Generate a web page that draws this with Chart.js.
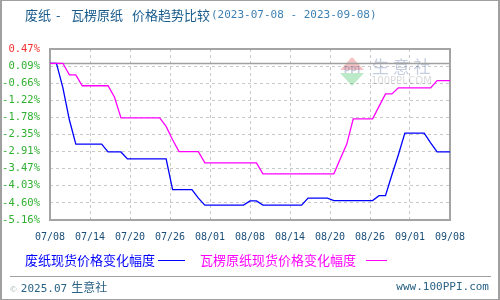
<!DOCTYPE html>
<html>
<head>
<meta charset="utf-8">
<script src="https://cdn.jsdelivr.net/npm/chart.js@4/dist/chart.umd.min.js"></script>
<style>
  html, body { margin: 0; padding: 0; background: #fff; }
  #wrap { position: relative; width: 500px; height: 300px; overflow: hidden; }
  #frame { position: absolute; left: 0; top: 0; width: 496px; height: 298px;
           border: 1px solid #a0a0a0; border-left-width: 2px; border-right-width: 2px; pointer-events: none; }
  canvas { position: absolute; left: 0; top: 0; }
  .t { position: absolute; white-space: nowrap; }
  .cjk { font-family: "Noto Sans CJK SC", sans-serif; }
  .mono { font-family: "DejaVu Sans Mono", monospace; }
  .seg { position: absolute; height: 0; border-top: 1px solid; }
</style>
</head>
<body>
<div id="wrap">
  <canvas id="c" width="500" height="300"></canvas>
  <div class="t cjk" style="left:25px;top:5px;line-height:20px;font-size:13px;color:#195c8c;">废纸</div>
  <div class="t cjk" style="left:56px;top:5px;line-height:20px;font-size:13px;color:#195c8c;">-</div>
  <div class="t cjk" style="left:71px;top:5px;line-height:20px;font-size:13px;color:#195c8c;">瓦楞原纸</div>
  <div class="t cjk" style="left:132px;top:5px;line-height:20px;font-size:13px;color:#195c8c;">价格趋势比较</div>
  <div class="t mono" style="left:211px;top:5px;line-height:20px;font-size:11px;color:#3d80b3;">(2023-07-08 - 2023-09-08)</div>

  <div class="t cjk" style="left:25px;top:250px;font-size:13px;line-height:20px;color:#0000ff;">废纸现货价格变化幅度</div>
  <div class="seg" style="left:158px;top:260px;width:27px;border-color:#0000ff;"></div>
  <div class="t cjk" style="left:200px;top:250px;font-size:13px;line-height:20px;color:#ff00ff;">瓦楞原纸现货价格变化幅度</div>
  <div class="seg" style="left:366px;top:260px;width:21px;border-color:#ff00ff;"></div>

  <div style="position:absolute;left:10px;top:276px;width:481px;height:1px;background:#a0a0a0;"></div>
  <div class="t" style="left:10px;top:278px;line-height:18px;color:#2a6285;">
    <span style="font-size:9px;color:#9aa;">©</span>
    <span class="mono" style="font-size:11px;">2025.07</span>
    <span class="cjk" style="font-size:12px;">生意社</span>
  </div>
  <div class="t mono" style="right:11px;top:278px;line-height:18px;font-size:11px;color:#2a6285;">www.100PPI.com</div>
  <div id="frame"></div>
</div>
<script>
// x tick labels (evenly spaced over 07/08 .. 09/08, 62 days)
const dateLabels = ['07/08', '07/14', '07/20', '07/26', '08/01', '08/08',
                    '08/14', '08/20', '08/26', '09/01', '09/08'];
const dayCount = 62;

// y ticks as printed on the left axis
const yTickValues = [0.47, -0.09, -0.66, -1.22, -1.78, -2.35, -2.91, -3.47, -4.03, -4.60, -5.16];
const yTickLabels = ['0.47%', '0.09%', '-0.66%', '-1.22%', '-1.78%', '-2.35%',
                     '-2.91%', '-3.47%', '-4.03%', '-4.60%', '-5.16%'];

// daily change (%) from 07/08, one value per day
const wastePaper = [
  0, 0, -0.81, -1.86, -2.66, -2.66, -2.66, -2.66, -2.66, -2.92,
  -2.92, -2.92, -3.15, -3.15, -3.15, -3.15, -3.15, -3.15, -3.15, -4.16,
  -4.16, -4.16, -4.16, -4.44, -4.67, -4.67, -4.67, -4.67, -4.67, -4.67,
  -4.67, -4.53, -4.53, -4.67, -4.67, -4.67, -4.67, -4.67, -4.67, -4.67,
  -4.44, -4.44, -4.44, -4.44, -4.52, -4.52, -4.52, -4.52, -4.52, -4.52,
  -4.52, -4.36, -4.36, -3.67, -3.01, -2.30, -2.30, -2.30, -2.30, -2.62,
  -2.92, -2.92, -2.92
];
const corrugated = [
  0, 0, 0, -0.38, -0.38, -0.74, -0.74, -0.74, -0.74, -0.74,
  -1.12, -1.80, -1.80, -1.80, -1.80, -1.80, -1.80, -1.80, -2.08, -2.52,
  -2.91, -2.91, -2.91, -2.91, -3.28, -3.28, -3.28, -3.28, -3.28, -3.28,
  -3.28, -3.28, -3.28, -3.64, -3.64, -3.64, -3.64, -3.64, -3.64, -3.64,
  -3.64, -3.64, -3.64, -3.64, -3.64, -3.14, -2.66, -1.83, -1.83, -1.83,
  -1.83, -1.42, -1.01, -1.01, -0.81, -0.81, -0.81, -0.81, -0.81, -0.81,
  -0.57, -0.57, -0.57
];

const toXY = arr => arr.map((v, i) => ({ x: i, y: v }));

// frame, zero line and faint watermark under the lines
const decor = {
  id: 'decor',
  beforeDatasetsDraw(chart) {
    const { ctx, chartArea: a, scales } = chart;
    ctx.save();

    // watermark
    ctx.globalAlpha = 0.35;
    ctx.fillStyle = '#e05050';
    ctx.beginPath(); ctx.moveTo(352, 57); ctx.lineTo(364, 70); ctx.lineTo(340, 70); ctx.closePath(); ctx.fill();
    ctx.fillStyle = '#40c060';
    ctx.beginPath(); ctx.moveTo(340, 73); ctx.lineTo(364, 73); ctx.lineTo(352, 86); ctx.closePath(); ctx.fill();
    ctx.fillStyle = '#6070a0';
    ctx.font = 'bold 9px "DejaVu Sans", sans-serif';
    ctx.textAlign = 'center'; ctx.textBaseline = 'middle';
    ctx.fillText('PPI', 352, 71);
    ctx.globalAlpha = 0.3;
    ctx.fillStyle = '#3c5890';
    ctx.font = '17px "Noto Sans CJK SC", sans-serif';
    ctx.textAlign = 'left';
    ctx.fillText('生 意 社', 372, 67);
    ctx.fillStyle = '#808080';
    ctx.font = '10px "DejaVu Sans", sans-serif';
    ctx.fillText('100PPI.COM', 371, 81);
    ctx.globalAlpha = 1;

    // zero line
    const y0 = Math.round(scales.y.getPixelForValue(0)) + 0.5;
    ctx.strokeStyle = '#a0a0a0';
    ctx.lineWidth = 1.5;
    ctx.beginPath(); ctx.moveTo(a.left, y0); ctx.lineTo(a.right, y0); ctx.stroke();

    // plot frame
    ctx.lineWidth = 2;
    ctx.strokeStyle = '#a4a4a4';
    ctx.strokeRect(a.left, a.top, a.right - a.left, a.bottom - a.top);
    ctx.restore();
  }
};

new Chart(document.getElementById('c'), {
  type: 'line',
  data: {
    datasets: [
      { label: '瓦楞原纸现货价格变化幅度', data: toXY(corrugated),
        borderColor: '#ff00ff', borderWidth: 1.3, pointRadius: 0, tension: 0, fill: false },
      { label: '废纸现货价格变化幅度', data: toXY(wastePaper),
        borderColor: '#0000ff', borderWidth: 1.3, pointRadius: 0, tension: 0, fill: false },
    ]
  },
  options: {
    responsive: false, animation: false,
    layout: { padding: { top: 49, right: 50, left: 0, bottom: 0 } },
    plugins: { legend: { display: false }, tooltip: { enabled: false }, title: { display: false } },
    scales: {
      x: {
        type: 'linear', min: 0, max: dayCount,
        afterBuildTicks: s => { s.ticks = dateLabels.map((l, k) => ({ value: k * dayCount / 10 })); },
        afterFit: s => { s.height = 80; },
        grid: { color: '#c8c8c8', lineWidth: 1, drawTicks: false },
        border: { display: false, dash: [3, 3] },
        ticks: {
          autoSkip: false, maxRotation: 0, padding: 11, color: '#1c4f78',
          font: { family: '"DejaVu Sans Mono", monospace', size: 10 },
          callback: (v, i) => dateLabels[i]
        }
      },
      y: {
        min: -5.16, max: 0.47,
        afterBuildTicks: s => { s.ticks = yTickValues.map(v => ({ value: v })); },
        afterFit: s => { s.width = 50; },
        grid: { color: '#c8c8c8', lineWidth: 1, drawTicks: false },
        border: { display: false, dash: [3, 3] },
        ticks: {
          padding: 10,
          color: c => c.index === 0 ? '#f03030' : '#30b030',
          font: { family: '"DejaVu Sans Mono", monospace', size: 10.5 },
          callback: (v, i) => yTickLabels[i]
        }
      }
    }
  },
  plugins: [decor]
});
</script>
</body>
</html>
